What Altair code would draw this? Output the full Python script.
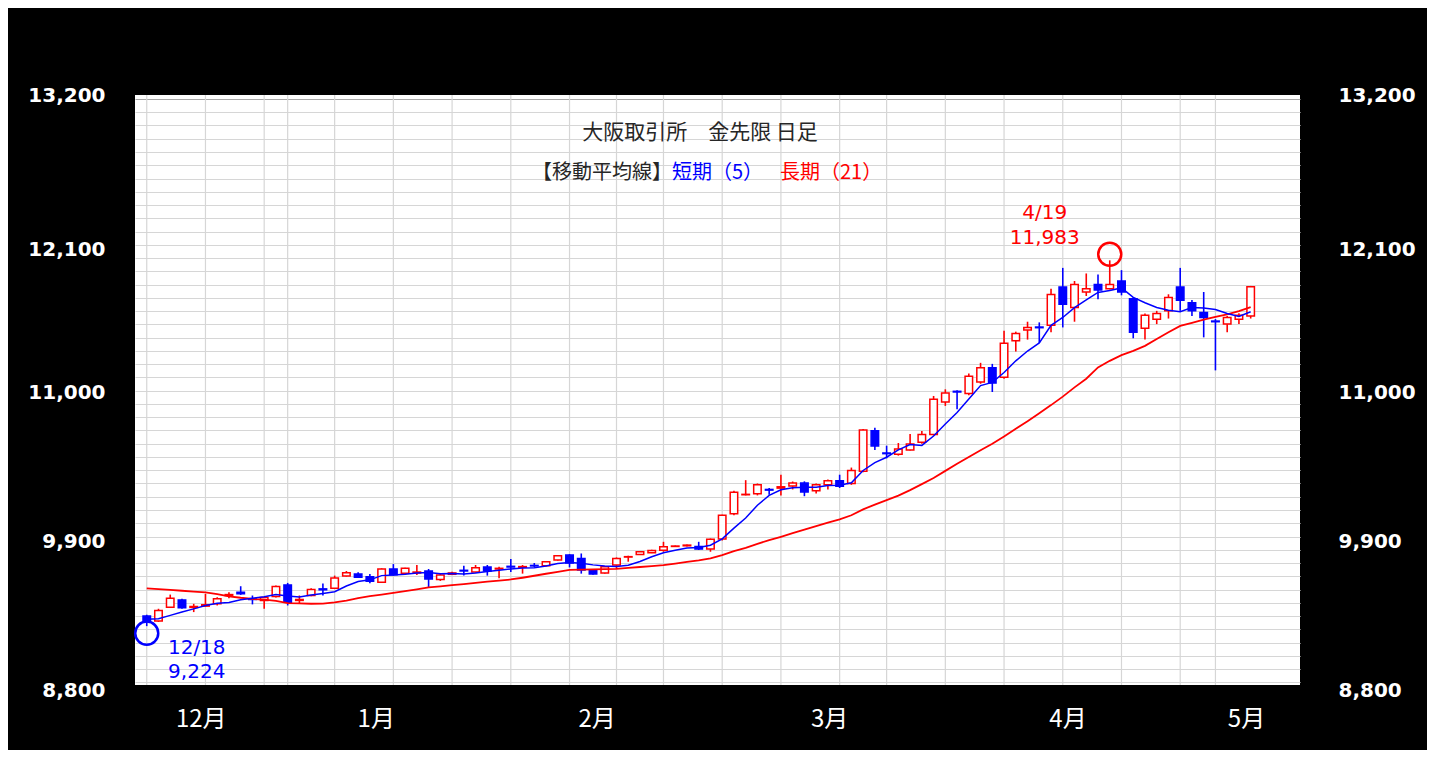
import altair as alt
import pandas as pd

# ---- data (OSE gold futures, daily, 2023-12-18 .. 2024-05) ----
opens = [9300, 9262, 9367, 9422, 9365, 9375, 9392, 9455, 9480, 9430,
         9417, 9447, 9535, 9418, 9455, 9505, 9510, 9602, 9617, 9597,
         9555, 9655, 9622, 9625, 9640, 9575, 9615, 9645, 9632, 9670,
         9655, 9675, 9668, 9682, 9680, 9722, 9760, 9735, 9642, 9625,
         9685, 9745, 9765, 9778, 9797, 9825, 9830, 9824, 9805, 9882,
         10071, 10215, 10222, 10255, 10265, 10280, 10303, 10246, 10291, 10321,
         10300, 10392, 10698, 10530, 10520, 10553, 10610, 10670, 10915, 10995,
         10978, 11065, 11172, 11102, 11377, 11457, 11480, 11494, 11782, 11627,
         11744, 11801, 11769, 11827, 11694, 11470, 11539, 11602, 11782, 11664,
         11589, 11525, 11502, 11539, 11564]
highs = [9310, 9355, 9462, 9430, 9392, 9467, 9442, 9480, 9525, 9455,
         9442, 9530, 9550, 9455, 9510, 9545, 9605, 9640, 9630, 9617,
         9660, 9692, 9665, 9685, 9655, 9620, 9635, 9680, 9685, 9685,
         9672, 9730, 9685, 9700, 9715, 9760, 9767, 9772, 9645, 9675,
         9742, 9755, 9790, 9800, 9860, 9832, 9840, 9860, 9885, 10065,
         10245, 10325, 10300, 10265, 10365, 10315, 10316, 10300, 10330, 10366,
         10420, 10710, 10720, 10585, 10605, 10673, 10695, 10960, 11010, 11003,
         11130, 11210, 11202, 11452, 11445, 11520, 11515, 11769, 11926, 11827,
         11884, 11876, 11983, 11909, 11702, 11582, 11602, 11727, 11926, 11684,
         11744, 11540, 11564, 11584, 11790]
lows = [9224, 9255, 9362, 9355, 9330, 9370, 9380, 9435, 9460, 9388,
        9355, 9440, 9380, 9398, 9450, 9455, 9505, 9598, 9590, 9547,
        9550, 9605, 9615, 9610, 9517, 9565, 9610, 9605, 9628, 9605,
        9585, 9632, 9620, 9670, 9675, 9718, 9667, 9620, 9612, 9620,
        9655, 9710, 9762, 9775, 9785, 9822, 9825, 9798, 9785, 9870,
        10060, 10210, 10210, 10215, 10210, 10255, 10204, 10225, 10255, 10266,
        10290, 10385, 10553, 10490, 10510, 10548, 10600, 10662, 10885, 10860,
        10965, 11052, 10990, 11090, 11295, 11385, 11360, 11440, 11477, 11520,
        11714, 11689, 11764, 11719, 11395, 11385, 11502, 11544, 11602, 11564,
        11402, 11153, 11440, 11502, 11544]
closes = [9260, 9342, 9434, 9362, 9372, 9385, 9430, 9462, 9468, 9425,
          9440, 9522, 9405, 9425, 9500, 9498, 9587, 9627, 9592, 9562,
          9655, 9612, 9660, 9632, 9580, 9610, 9625, 9640, 9665, 9640,
          9660, 9670, 9673, 9678, 9710, 9755, 9700, 9647, 9617, 9672,
          9735, 9748, 9785, 9795, 9822, 9828, 9835, 9805, 9880, 10060,
          10234, 10218, 10290, 10250, 10275, 10303, 10236, 10291, 10321, 10279,
          10398, 10703, 10583, 10525, 10560, 10598, 10670, 10935, 10983, 10990,
          11108, 11172, 11057, 11357, 11432, 11477, 11475, 11726, 11652, 11801,
          11769, 11759, 11801, 11744, 11440, 11569, 11582, 11702, 11682, 11602,
          11552, 11520, 11552, 11569, 11784]
ma5 = [9276, 9280, 9305, 9330,
       9354, 9379, 9397, 9402, 9423, 9434, 9445, 9463, 9452, 9443,
       9458, 9470, 9483, 9527, 9561, 9573, 9605, 9610, 9616, 9624,
       9628, 9619, 9621, 9617, 9624, 9636, 9646, 9655, 9662, 9664,
       9678, 9697, 9703, 9698, 9686, 9678, 9674, 9684, 9711, 9747,
       9777, 9796, 9813, 9817, 9834, 9882, 9963, 10039, 10136, 10210,
       10253, 10267, 10271, 10271, 10285, 10286, 10305, 10398, 10457, 10498,
       10554, 10594, 10587, 10658, 10749, 10835, 10937, 11038, 11062, 11137,
       11225, 11299, 11360, 11493, 11552, 11626, 11685, 11741, 11756, 11775,
       11703, 11663, 11627, 11607, 11595, 11627, 11624, 11612, 11582, 11559, 11595]
ma21 = [9509, 9503, 9497, 9491, 9485, 9479, 9465, 9449, 9438, 9429,
        9424, 9415, 9397, 9395, 9393, 9394, 9403, 9416, 9435, 9450,
        9462, 9475, 9488, 9502, 9516, 9524, 9533, 9541, 9550, 9559,
        9567, 9576, 9589, 9604, 9619, 9634, 9648, 9650, 9652, 9654,
        9656, 9663, 9670, 9677, 9684, 9696, 9708, 9720, 9735, 9760,
        9790, 9815, 9845, 9872, 9898, 9925, 9952, 9978, 10004, 10030,
        10060, 10105, 10140, 10175, 10208, 10250, 10295, 10341, 10395, 10448,
        10500, 10550, 10600, 10655, 10713, 10770, 10830, 10891, 10955, 11025,
        11090, 11175, 11225, 11268, 11300, 11338, 11390, 11440, 11488, 11512,
        11535, 11556, 11575, 11600, 11630]

week_starts = [1, 6, 11, 13, 17, 22, 27, 32, 37, 41, 45, 50, 55, 60, 64, 69, 74, 79, 84, 89, 92]
month_labels = ["12月", "1月", "2月", "3月", "4月", "5月"]
month_pos = [5.6, 20.5, 39.3, 59.1, 79.4, 94.6]
y_label_values = [8800, 9900, 11000, 12100, 13200]
y_grid_values = list(range(8800, 13201, 100))

low_idx, low_value, low_date = [1], [9224], ["12/18"]
high_idx, high_value, high_date = [83], [11983], ["4/19"]

title_line1 = "大阪取引所　金先限 日足"
legend_head = "【移動平均線】"
legend_short = "短期（5）"
legend_long = "長期（21）"

RED = "#ff0000"
BLUE = "#0000ff"
JP_FONT = "Noto Sans CJK JP"

df = pd.DataFrame({
    "idx": list(range(1, len(closes) + 1)),
    "open": opens, "high": highs, "low": lows, "close": closes,
    "ma5": ma5, "ma21": ma21,
})

xscale = alt.Scale(domain=[0, 99.2], nice=False, zero=False, padding=0)
yscale = alt.Scale(domain=[8780, 13230], nice=False, zero=False)

label_arr = "[" + ",".join("'%s'" % m for m in month_labels) + "]"
pos_arr = "[" + ",".join(str(p) for p in month_pos) + "]"
xaxis = alt.Axis(values=month_pos, labelExpr=f"{label_arr}[indexof({pos_arr}, datum.value)]",
                 grid=False, ticks=False, domain=False, labelColor="white",
                 labelFont=JP_FONT, labelFontSize=24, labelPadding=22,
                 labelFlush=False, labelOverlap=False, title=None)

y_label_offset = {
    "condition": [
        {"test": "datum.value == 13200", "value": -3},
        {"test": "datum.value == 12100", "value": 5},
        {"test": "datum.value == 11000", "value": 2},
        {"test": "datum.value == 9900", "value": 5},
        {"test": "datum.value == 8800", "value": 8},
    ],
    "value": 3,
}

left_axis = alt.Axis(values=y_grid_values,
                     labelExpr="datum.value % 1100 == 0 ? format(datum.value, ',') : ''",
                     grid=True,
                     gridColor=alt.condition("datum.value == 13200", alt.value("#a6a6a6"), alt.value("#d6d6d6")),
                     gridWidth=1.2, ticks=False, domain=False, labelColor="white",
                     labelFont="DejaVu Sans", labelFontWeight="bold", labelFontSize=20,
                     labelPadding=30, labelOffset=y_label_offset, labelOverlap=False,
                     labelFlush=False, title=None)
right_axis = alt.Axis(values=y_label_values, labelExpr="format(datum.value, ',')", orient="right",
                      grid=False, ticks=False, domain=False, labelColor="white",
                      labelFont="DejaVu Sans", labelFontWeight="bold", labelFontSize=20,
                      labelPadding=38, labelOffset=y_label_offset,
                      labelOverlap=False, labelFlush=False, title=None)

X = alt.X("idx:Q", scale=xscale, axis=xaxis)
up = "datum.close >= datum.open"

vgrid = alt.Chart(pd.DataFrame({"idx": week_starts})).mark_rule(
    color="#d6d6d6", strokeWidth=1.2).encode(x=X)

wicks = alt.Chart(df).mark_rule(strokeWidth=1.6).encode(
    x=X, y=alt.Y("low:Q", scale=yscale, axis=left_axis), y2="high:Q",
    color=alt.condition(up, alt.value(RED), alt.value(BLUE)))

bodies = alt.Chart(df).mark_bar(size=7.5, strokeWidth=1.5).encode(
    x=X, y=alt.Y("open:Q", scale=yscale, axis=left_axis), y2="close:Q",
    fill=alt.condition(up, alt.value("white"), alt.value(BLUE)),
    stroke=alt.condition(up, alt.value(RED), alt.value(BLUE)))

line21 = alt.Chart(df).mark_line(color=RED, strokeWidth=1.8).encode(
    x=X, y=alt.Y("ma21:Q", scale=yscale, axis=left_axis))
line5 = alt.Chart(df).mark_line(color=BLUE, strokeWidth=1.5).encode(
    x=X, y=alt.Y("ma5:Q", scale=yscale, axis=left_axis))

low_df = pd.DataFrame({"idx": low_idx, "value": low_value, "date": low_date})
high_df = pd.DataFrame({"idx": high_idx, "value": high_value, "date": high_date})
Yv = alt.Y("value:Q", scale=yscale, axis=left_axis)

low_circle = alt.Chart(low_df).mark_point(shape="circle", size=530, filled=False, strokeWidth=2.5,
                                          color=BLUE, yOffset=7, opacity=1).encode(x=X, y=Yv)
low_t1 = alt.Chart(low_df).mark_text(dx=50, dy=22, color=BLUE, fontSize=20, font="DejaVu Sans").encode(
    x=X, y=Yv, text="date:N")
low_t2 = alt.Chart(low_df).mark_text(dx=50, dy=46, color=BLUE, fontSize=20, font="DejaVu Sans").encode(
    x=X, y=Yv, text=alt.Text("value:Q", format=","))

high_circle = alt.Chart(high_df).mark_point(shape="circle", size=530, filled=False, strokeWidth=2.5,
                                            color=RED, yOffset=-6, opacity=1).encode(x=X, y=Yv)
high_t1 = alt.Chart(high_df).mark_text(dx=-65, dy=-47, color=RED, fontSize=20, font="DejaVu Sans").encode(
    x=X, y=Yv, text="date:N")
high_t2 = alt.Chart(high_df).mark_text(dx=-65, dy=-22, color=RED, fontSize=20, font="DejaVu Sans").encode(
    x=X, y=Yv, text=alt.Text("value:Q", format=","))

def txt(s, x, y, color, align, size=20):
    return alt.Chart(pd.DataFrame({"t": [s]})).mark_text(
        color=color, fontSize=size, font=JP_FONT, align=align, baseline="middle").encode(
        text="t:N", x=alt.value(x), y=alt.value(y))

t1 = txt(title_line1, 565, 38, "#262626", "center", 21)
t2 = txt(legend_head, 537, 78, "#262626", "right")
t3 = txt(legend_short, 537, 78, BLUE, "left")
t4 = txt(legend_long, 645, 78, RED, "left")

main = alt.layer(vgrid, wicks, bodies, line21, line5,
                 low_circle, low_t1, low_t2, high_circle, high_t1, high_t2,
                 t1, t2, t3, t4)

right_dummy = alt.Chart(df).mark_line(opacity=0).encode(
    x=X, y=alt.Y("ma21:Q", scale=alt.Scale(domain=[8780, 13230], nice=False, zero=False), axis=right_axis))

chart = alt.layer(main, right_dummy).resolve_scale(y="independent").properties(
    width=1165, height=590,
    padding={"left": 127, "top": 87, "right": 127, "bottom": 65},
    autosize=alt.AutoSizeParams(type="none"),
    background="black",
).configure_view(fill="white", stroke=None)

chart.save("out.html", embed_options={"renderer": "svg", "actions": False})
